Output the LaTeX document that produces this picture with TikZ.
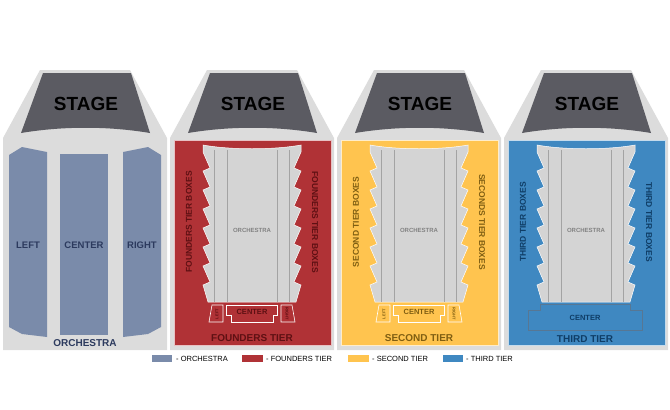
\documentclass[tikz,border=0pt]{standalone}
\usepackage{fontspec}
\setmainfont{Liberation Sans}
\usepackage{tikz}
\usetikzlibrary{positioning}
\definecolor{hall1}{HTML}{DCDCDC}
\definecolor{inner1}{HTML}{D4D4D4}
\definecolor{line1}{HTML}{A3A3A3}
\definecolor{stage1}{HTML}{5B5B62}
\definecolor{orch1}{HTML}{7A8BAA}
\definecolor{orchtxt}{HTML}{2C3A5E}
\definecolor{red1}{HTML}{B03236}
\definecolor{redtxt}{HTML}{5E1013}
\definecolor{yellow1}{HTML}{FFC44F}
\definecolor{yellowtxt}{HTML}{7F5E12}
\definecolor{blue1}{HTML}{3F88C1}
\definecolor{bluetxt}{HTML}{0F3D66}

% hall outline and stage of one panel
\newcommand{\hallbase}[1]{%
  \fill[hall1] (37,70) -- (127,70) -- (164,138) -- (164,350) -- (0,350) -- (0,138) -- cycle;
  \fill[stage1] (40,73) -- (128,73) -- (147,133)
      .. controls (105,126) and (60,126) .. (18,133) -- cycle;
  \node[stagelbl] (stage#1) at (83,104) {STAGE};
}
% tier: coloured area, orchestra well with box teeth, side labels
\newcommand{\tierbase}[5]{%
  \fill[#2, draw=white!70!#2, line width=0.6pt] (4,140) rectangle (161,345);
  \fill[inner1, draw=white, line width=0.5pt] (33,145) .. controls (60,150) and (104,150) .. (131,145)
      \foreach \i in {0,...,6}{ -- (131,{152+19*\i}) -- (124,{168+19*\i}) -- (131,{171+19*\i}) }
      -- (126,302) -- (38,302)
      \foreach \i in {6,...,0}{ -- (33,{171+19*\i}) -- (40,{168+19*\i}) -- (33,{152+19*\i}) } -- cycle;
  \foreach \x in {44,57,107,119}
    \draw[line1, line width=0.6pt] (\x,150) -- (\x,302);
  \node[wellbl] (well#1) at (82,230) {ORCHESTRA};
  \node[boxlbl, text=#3, rotate=90] (lbox#1) at (19,222) {#4};
  \node[boxlbl, text=#3, rotate=-90] (rbox#1) at (145,222) {#5};
}

\begin{document}
\begin{tikzpicture}[x=1pt, y=-1pt,
    stagelbl/.style={font=\fontsize{19}{20}\bfseries\selectfont, text=black, inner sep=0pt},
    seclbl/.style={font=\fontsize{9.5}{10}\bfseries\selectfont, text=orchtxt, inner sep=0pt},
    tierlbl/.style={font=\fontsize{10}{11}\bfseries\selectfont, inner sep=0pt},
    boxlbl/.style={font=\fontsize{8.5}{9}\bfseries\selectfont, inner sep=0pt},
    wellbl/.style={font=\fontsize{6}{7}\bfseries\selectfont, text=line1!80!black, inner sep=0pt},
    seat/.style={draw=white, line width=0.6pt},
    tiny/.style={font=\fontsize{4}{4}\bfseries\selectfont, inner sep=0pt},
    keylbl/.style={font=\fontsize{7.5}{8}\selectfont, inner sep=0pt, anchor=west},
]
\useasboundingbox (0,0) rectangle (670,410);

% Orchestra
\begin{scope}[shift={(3,0)}]
\hallbase{O}
\fill[orch1] (6,155) -- (19,147) -- (44,152) -- (44,337) -- (19,334) -- (6,327) -- cycle;
\fill[orch1] (57,154) rectangle (105,335);
\fill[orch1] (120,152) -- (145,147) -- (158,155) -- (158,327) -- (145,334) -- (120,337) -- cycle;
\node[seclbl] (left) at (25,245) {LEFT};
\node[seclbl] (center) at (81,245) {CENTER};
\node[seclbl] (right) at (139,245) {RIGHT};
\node[tierlbl, text=orchtxt] (orch) at (82,343) {ORCHESTRA};
\end{scope}

% Founders tier
\begin{scope}[shift={(170,0)}]
\hallbase{F}
\tierbase{F}{red1}{redtxt}{FOUNDERS TIER BOXES}{FOUNDERS TIER BOXES}
\fill[red1, seat] (42,305) -- (53,305) -- (53,322) -- (39,322) -- cycle;
\fill[red1, seat] (56,305) -- (107,305) -- (107,315) -- (103,315) -- (103,322) -- (61,322) -- (61,315) -- (56,315) -- cycle;
\fill[red1, seat] (111,305) -- (122,305) -- (125,322) -- (111,322) -- cycle;
\node[tiny, text=redtxt, rotate=90] (fleft) at (47,314) {LEFT};
\node[font=\fontsize{7.5}{8}\bfseries\selectfont, text=redtxt] (fcenter) at (82,312) {CENTER};
\node[tiny, text=redtxt, rotate=-90] (fright) at (117,314) {RIGHT};
\node[tierlbl, text=redtxt] (ftier) at (82,338) {FOUNDERS TIER};
\end{scope}

% Second tier
\begin{scope}[shift={(337,0)}]
\hallbase{S}
\tierbase{S}{yellow1}{yellowtxt}{SECOND TIER BOXES}{SECONDS TIER BOXES}
\fill[yellow1, seat] (42,305) -- (53,305) -- (53,322) -- (39,322) -- cycle;
\fill[yellow1, seat] (56,305) -- (107,305) -- (107,315) -- (103,315) -- (103,322) -- (61,322) -- (61,315) -- (56,315) -- cycle;
\fill[yellow1, seat] (111,305) -- (122,305) -- (125,322) -- (111,322) -- cycle;
\node[tiny, text=yellowtxt, rotate=90] (sleft) at (47,314) {LEFT};
\node[font=\fontsize{7.5}{8}\bfseries\selectfont, text=yellowtxt] (scenter) at (82,312) {CENTER};
\node[tiny, text=yellowtxt, rotate=-90] (sright) at (117,314) {RIGHT};
\node[tierlbl, text=yellowtxt] (stier) at (82,338) {SECOND TIER};
\end{scope}

% Third tier
\begin{scope}[shift={(504,0)}]
\hallbase{T}
\tierbase{T}{blue1}{bluetxt}{THIRD TIER BOXES}{THIRD TIER BOXES}
\fill[blue1, draw=bluetxt!70, line width=0.5pt] (36,304) -- (126,304) -- (126,310) -- (138,310) -- (138,330)
    -- (24,330) -- (24,310) -- (36,310) -- cycle;
\node[font=\fontsize{7.5}{8}\bfseries\selectfont, text=bluetxt] (tcenter) at (81,318) {CENTER};
\node[tierlbl, text=bluetxt] (ttier) at (81,339) {THIRD TIER};
\end{scope}

% legend
\fill[orch1] (152,355) rectangle (172,362);
\node[keylbl] (korch) at (176,359) {- ORCHESTRA};
\fill[red1] (242,355) rectangle (263,362);
\node[keylbl] (kfound) at (266,359) {- FOUNDERS TIER};
\fill[yellow1] (348,355) rectangle (369,362);
\node[keylbl] (ksecond) at (372,359) {- SECOND TIER};
\fill[blue1] (443,355) rectangle (463,362);
\node[keylbl] (kthird) at (466,359) {- THIRD TIER};
\end{tikzpicture}
\end{document}
